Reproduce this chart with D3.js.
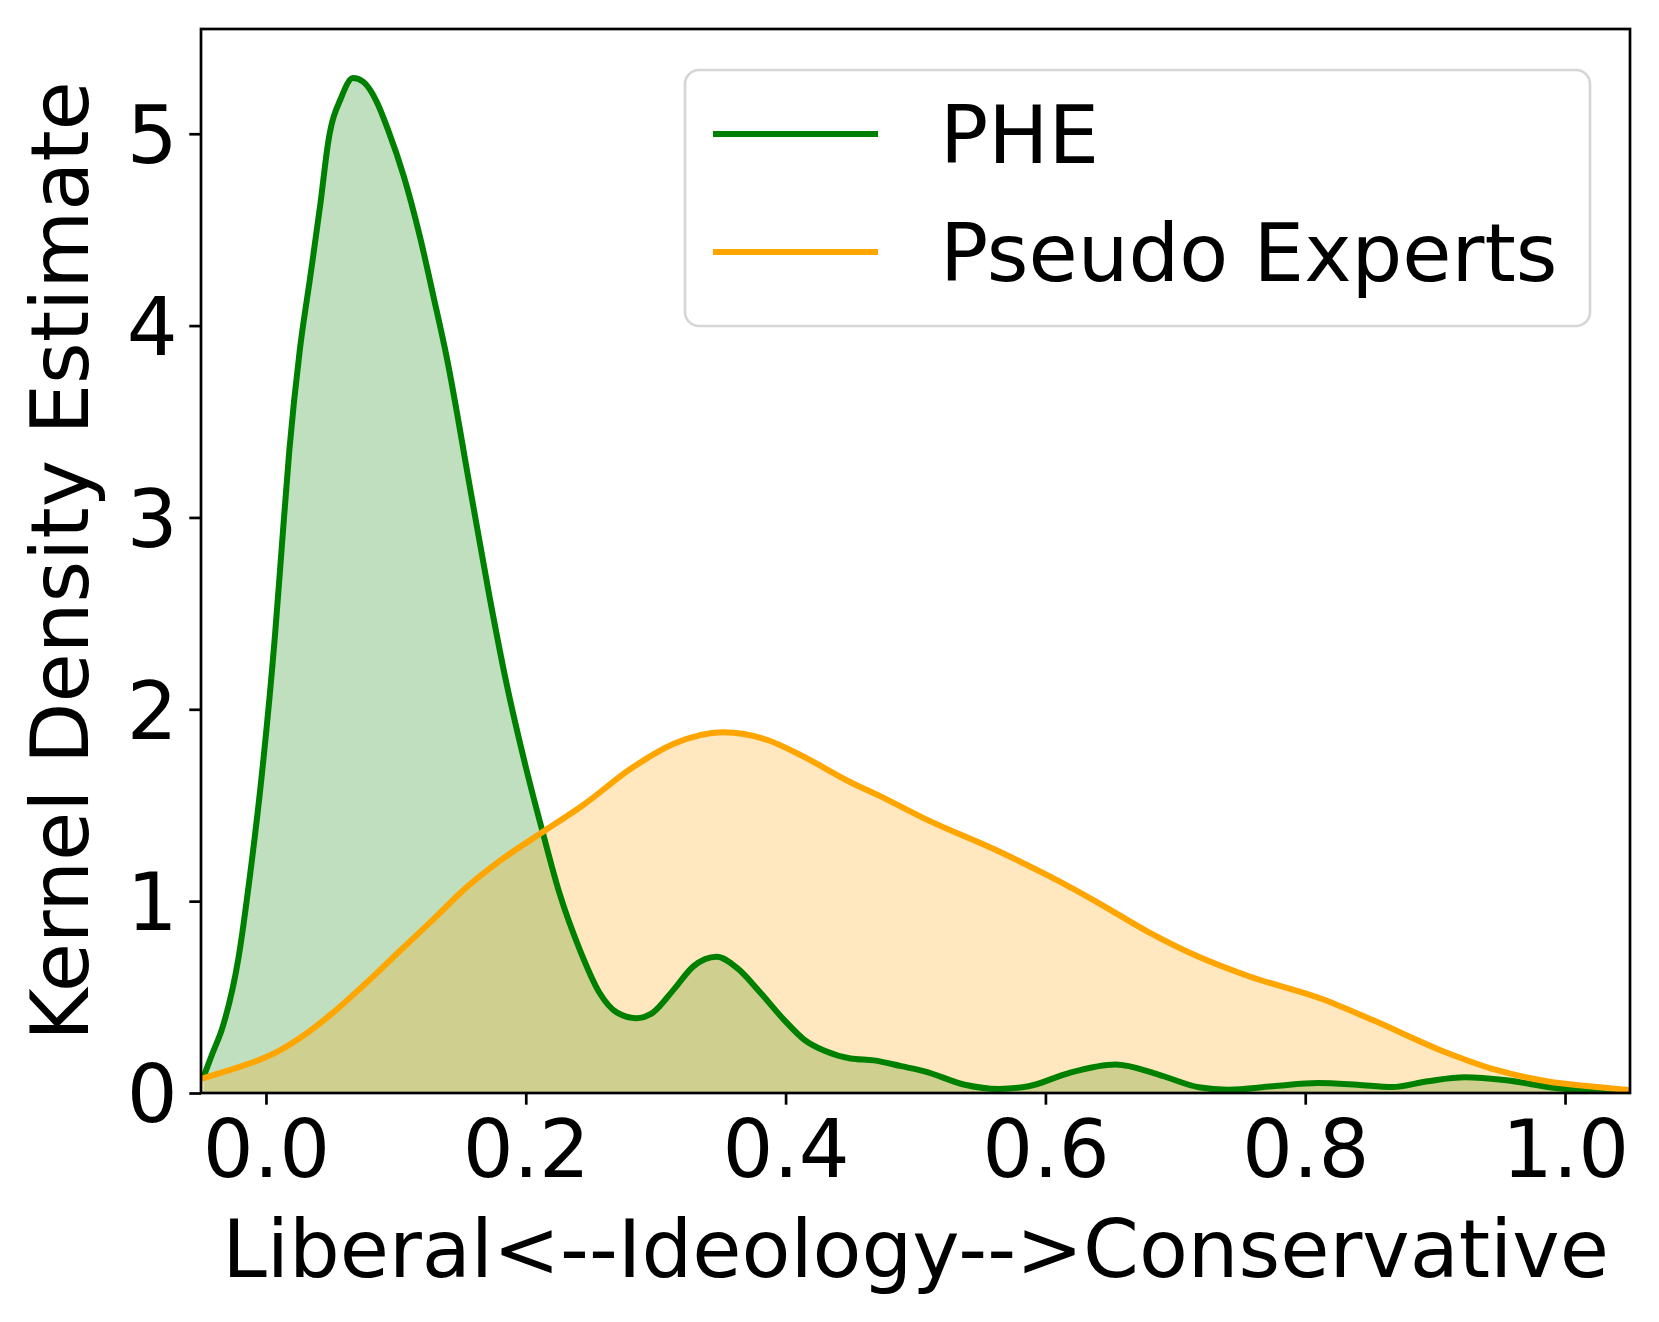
<!DOCTYPE html>
<html>
<head>
<meta charset="utf-8">
<title>Kernel density - ideology</title>
<script src="https://d3js.org/d3.v7.min.js"></script>
<style>
body { margin: 0; background: #fff; }
text { font-family: "DejaVu Sans", sans-serif; fill: #000; }
</style>
</head>
<body>
<div id="chart"></div>
<script>
// values
var pheX = [-0.048, -0.041, -0.034, -0.021, -0.012, -0.003, 0.007, 0.012, 0.018, 0.026, 0.034, 0.042, 0.048, 0.058, 0.067, 0.075, 0.085, 0.094, 0.106, 0.119, 0.129, 0.139, 0.158, 0.172, 0.185, 0.2, 0.213, 0.226, 0.242, 0.257, 0.27, 0.285, 0.298, 0.314, 0.329, 0.347, 0.363, 0.381, 0.399, 0.414, 0.43, 0.45, 0.468, 0.489, 0.507, 0.538, 0.564, 0.587, 0.618, 0.654, 0.687, 0.718, 0.741, 0.775, 0.81, 0.84, 0.867, 0.894, 0.923, 0.955, 0.993, 1.024, 1.05];
var pheY = [0.085, 0.21, 0.33, 0.71, 1.15, 1.67, 2.39, 2.83, 3.35, 3.87, 4.25, 4.64, 4.96, 5.19, 5.29, 5.27, 5.17, 5.02, 4.78, 4.45, 4.15, 3.84, 3.12, 2.59, 2.14, 1.70, 1.36, 1.04, 0.74, 0.52, 0.42, 0.39, 0.42, 0.54, 0.66, 0.71, 0.65, 0.52, 0.38, 0.28, 0.22, 0.18, 0.17, 0.14, 0.113, 0.043, 0.021, 0.035, 0.104, 0.148, 0.096, 0.030, 0.017, 0.035, 0.052, 0.043, 0.031, 0.061, 0.082, 0.066, 0.026, 0.009, 0.003];

var pseudoX = [-0.05, -0.03, -0.01, 0.01, 0.03, 0.05, 0.075, 0.103, 0.128, 0.154, 0.18, 0.213, 0.244, 0.283, 0.314, 0.352, 0.386, 0.412, 0.45, 0.472, 0.507, 0.564, 0.603, 0.641, 0.679, 0.718, 0.756, 0.813, 0.852, 0.909, 0.947, 0.986, 1.024, 1.05];
var pseudoY = [0.073, 0.115, 0.16, 0.22, 0.305, 0.41, 0.56, 0.74, 0.90, 1.07, 1.21, 1.36, 1.50, 1.70, 1.82, 1.88, 1.84, 1.76, 1.62, 1.55, 1.43, 1.26, 1.13, 0.99, 0.84, 0.71, 0.61, 0.49, 0.38, 0.21, 0.12, 0.061, 0.031, 0.015];

var seriesNames = ["PHE", "Pseudo Experts"];
var seriesColors = ["green", "orange"];
var xTicks = [0.0, 0.2, 0.4, 0.6, 0.8, 1.0];
var yTicks = [0, 1, 2, 3, 4, 5];

var width = 1659, height = 1322;
var margin = {left: 201, right: 1659 - 1630, top: 29, bottom: 1322 - 1093};
var fs = 80;

var svg = d3.select("#chart").append("svg")
	.attr("width", width).attr("height", height);

var x = d3.scaleLinear().domain([-0.05, 1.05]).range([margin.left, width - margin.right]);
var y = d3.scaleLinear().domain([0, 5.546]).range([height - margin.bottom, margin.top]);

svg.append("clipPath").attr("id", "clip")
	.append("rect")
	.attr("x", margin.left).attr("y", margin.top)
	.attr("width", x.range()[1] - x.range()[0])
	.attr("height", y.range()[0] - y.range()[1]);

var series = [
	{name: seriesNames[0], color: seriesColors[0], pts: pheX.map(function(v, i) { return [v, pheY[i]]; })},
	{name: seriesNames[1], color: seriesColors[1], pts: pseudoX.map(function(v, i) { return [v, pseudoY[i]]; })}
];

var area = d3.area()
	.x(function(d) { return x(d[0]); })
	.y0(y(0))
	.y1(function(d) { return y(d[1]); })
	.curve(d3.curveMonotoneX);

var line = d3.line()
	.x(function(d) { return x(d[0]); })
	.y(function(d) { return y(d[1]); })
	.curve(d3.curveMonotoneX);

var plot = svg.append("g").attr("clip-path", "url(#clip)");

series.forEach(function(s) {
	plot.append("path").datum(s.pts)
		.attr("d", area)
		.attr("fill", s.color)
		.attr("fill-opacity", 0.25);
});
series.forEach(function(s) {
	plot.append("path").datum(s.pts)
		.attr("d", line)
		.attr("fill", "none")
		.attr("stroke", s.color)
		.attr("stroke-width", 6)
		.attr("stroke-linejoin", "round");
});

// axes
var xAxis = svg.append("g")
	.attr("transform", "translate(0," + y(0) + ")")
	.call(d3.axisBottom(x).tickValues(xTicks).tickFormat(d3.format(".1f"))
		.tickSize(11.7).tickPadding(11.7).tickSizeOuter(0));
var yAxis = svg.append("g")
	.attr("transform", "translate(" + margin.left + ",0)")
	.call(d3.axisLeft(y).tickValues(yTicks).tickFormat(d3.format("d"))
		.tickSize(11.7).tickPadding(11.7).tickSizeOuter(0));

[xAxis, yAxis].forEach(function(a) {
	a.select(".domain").remove();
	a.selectAll(".tick line").attr("stroke", "#000").attr("stroke-width", 2.7);
	a.selectAll(".tick text").style("font-size", fs + "px").style("font-family", "DejaVu Sans");
});
xAxis.selectAll(".tick text").attr("dy", "0.76em");
yAxis.selectAll(".tick text").attr("dy", "0.36em");

// spines
svg.append("rect")
	.attr("x", margin.left).attr("y", margin.top)
	.attr("width", x.range()[1] - x.range()[0])
	.attr("height", y.range()[0] - y.range()[1])
	.attr("fill", "none")
	.attr("stroke", "#000")
	.attr("stroke-width", 2.7);

// labels
svg.append("text")
	.attr("x", (x.range()[0] + x.range()[1]) / 2)
	.attr("y", 1277)
	.attr("text-anchor", "middle")
	.style("font-size", fs + "px")
	.text("Liberal<--Ideology-->Conservative");

svg.append("text")
	.attr("transform", "translate(88," + ((y.range()[0] + y.range()[1]) / 2) + ") rotate(-90)")
	.attr("text-anchor", "middle")
	.style("font-size", fs + "px")
	.text("Kernel Density Estimate");

// legend
var leg = svg.append("g");
leg.append("rect")
	.attr("x", 685).attr("y", 70)
	.attr("width", 1590 - 685).attr("height", 326 - 70)
	.attr("rx", 14).attr("ry", 14)
	.attr("fill", "#fff").attr("fill-opacity", 0.8)
	.attr("stroke", "#d6d6d6").attr("stroke-width", 2.7);

series.forEach(function(s, i) {
	var ly = 134 + i * 118;
	leg.append("line")
		.attr("x1", 713).attr("x2", 878)
		.attr("y1", ly).attr("y2", ly)
		.attr("stroke", s.color).attr("stroke-width", 6);
	leg.append("text")
		.attr("x", 940).attr("y", ly + 29)
		.style("font-size", fs + "px")
		.text(s.name);
});
</script>
</body>
</html>
